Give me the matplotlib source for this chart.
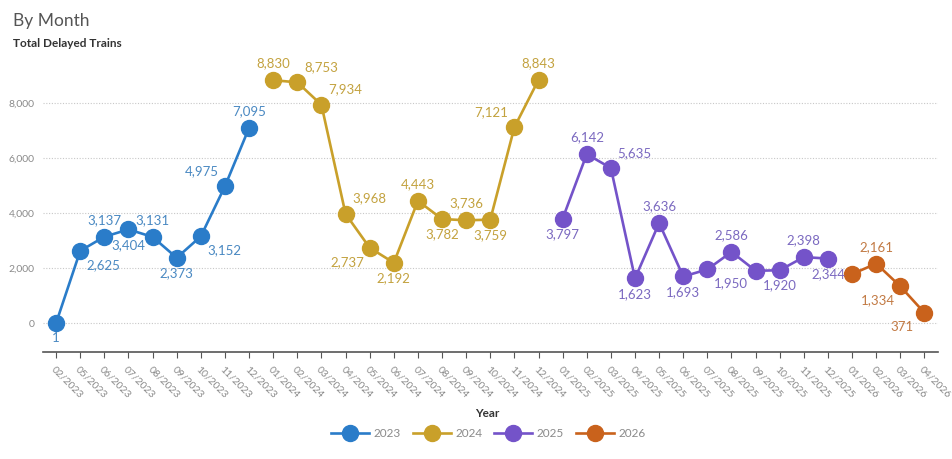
import matplotlib.pyplot as plt
from matplotlib.lines import Line2D

plt.rcParams['font.family'] = ['Lato', 'DejaVu Sans']

# Month labels for the x axis (02/2023 .. 04/2026, 03/2023 and 04/2023 missing)
months = ['02/2023', '05/2023', '06/2023', '07/2023', '08/2023', '09/2023', '10/2023', '11/2023', '12/2023',
          '01/2024', '02/2024', '03/2024', '04/2024', '05/2024', '06/2024', '07/2024', '08/2024', '09/2024',
          '10/2024', '11/2024', '12/2024',
          '01/2025', '02/2025', '03/2025', '04/2025', '05/2025', '06/2025', '07/2025', '08/2025', '09/2025',
          '10/2025', '11/2025', '12/2025',
          '01/2026', '02/2026', '03/2026', '04/2026']

# Delayed trains per year
delays_2023 = [1, 2625, 3137, 3404, 3131, 2373, 3152, 4975, 7095]
delays_2024 = [8830, 8753, 7934, 3968, 2737, 2192, 4443, 3782, 3736, 3759, 7121, 8843]
delays_2025 = [3797, 6142, 5635, 1623, 3636, 1693, 1950, 2586, 1900, 1920, 2398, 2344]
delays_2026 = [1780, 2161, 1334, 371]

years = ['2023', '2024', '2025', '2026']
series = [delays_2023, delays_2024, delays_2025, delays_2026]
line_colors = ['#2a7cc9', '#c9a02a', '#7453c9', '#c9621c']
label_colors = ['#4a89c2', '#c3a23f', '#7b69c0', '#c27a44']

# label placement per point: a=above, b=below, ar/br/al/bl = diagonal, None = hidden
place = [
    ['b', 'br', 'a', 'b', 'a', 'b', 'br', 'al', 'a'],
    ['a', 'ar', 'ar', 'ar', 'bl', 'b', 'a', 'b', 'a', 'b', 'al', 'a'],
    ['b', 'a', 'ar', 'b', 'a', 'b', 'br', 'a', None, 'b', 'a', 'b'],
    [None, 'a', 'bl', 'bl'],
]
offsets = {'a': (0, 12), 'b': (0, -11), 'ar': (17, 11), 'br': (17, -10),
           'al': (-17, 11), 'bl': (-16, -10)}

fig = plt.figure(figsize=(9.52, 4.59), dpi=100)
ax = fig.add_axes([0.045, 0.233, 0.940, 0.636])

start = 0
handles = []
for yr, vals, lc, tc, pl in zip(years, series, line_colors, label_colors, place):
    xs = list(range(start, start + len(vals)))
    ax.plot(xs, vals, color=lc, lw=1.9, marker='o', ms=11.5, zorder=3)
    for x, v, p in zip(xs, vals, pl):
        if p is None:
            continue
        dx, dy = offsets[p]
        ax.annotate(f'{v:,}', (x, v), xytext=(dx, dy), textcoords='offset points',
                    ha='center', va='center', fontsize=9.5, color=tc, zorder=4)
    handles.append(Line2D([0], [0], color=lc, lw=1.9, marker='o', ms=11.5))
    start += len(vals)

ax.set_xlim(-0.55, len(months) - 0.45)
ax.set_ylim(-1055, 9560)
ax.set_yticks([0, 2000, 4000, 6000, 8000])
ax.set_yticklabels([f'{t:,}' for t in [0, 2000, 4000, 6000, 8000]])
ax.set_xticks(range(len(months)))
ax.set_xticklabels(months, rotation=-45, ha='left', va='top', rotation_mode='anchor')
ax.tick_params(axis='x', colors='#555555', labelcolor='#8a8a8a', labelsize=7.5, length=4, width=0.8, pad=5)
ax.tick_params(axis='y', length=0, labelcolor='#8a8a8a', labelsize=7.5, pad=6)
ax.grid(axis='y', color='#c8c8c8', ls=(0, (1, 1.5)), lw=0.8)
ax.set_axisbelow(True)
for s in ['top', 'right', 'left']:
    ax.spines[s].set_visible(False)
ax.spines['bottom'].set_color('#555555')
ax.spines['bottom'].set_linewidth(1.2)

fig.text(0.014, 0.955, 'By Month', fontsize=12.5, color='#555555', va='center')
fig.text(0.014, 0.905, 'Total Delayed Trains', fontsize=8.5, color='#333333', weight='bold', va='center')
fig.text(0.512, 0.1, 'Year', fontsize=8.5, color='#333333', weight='bold', ha='center', va='center')

fig.legend(handles, years, loc='center', bbox_to_anchor=(0.513, 0.056), ncol=4, frameon=False,
           fontsize=8.5, labelcolor='#8a8a8a', handlelength=3.2, columnspacing=1.0, handletextpad=0.4)

fig.savefig('out.png', dpi=100)
